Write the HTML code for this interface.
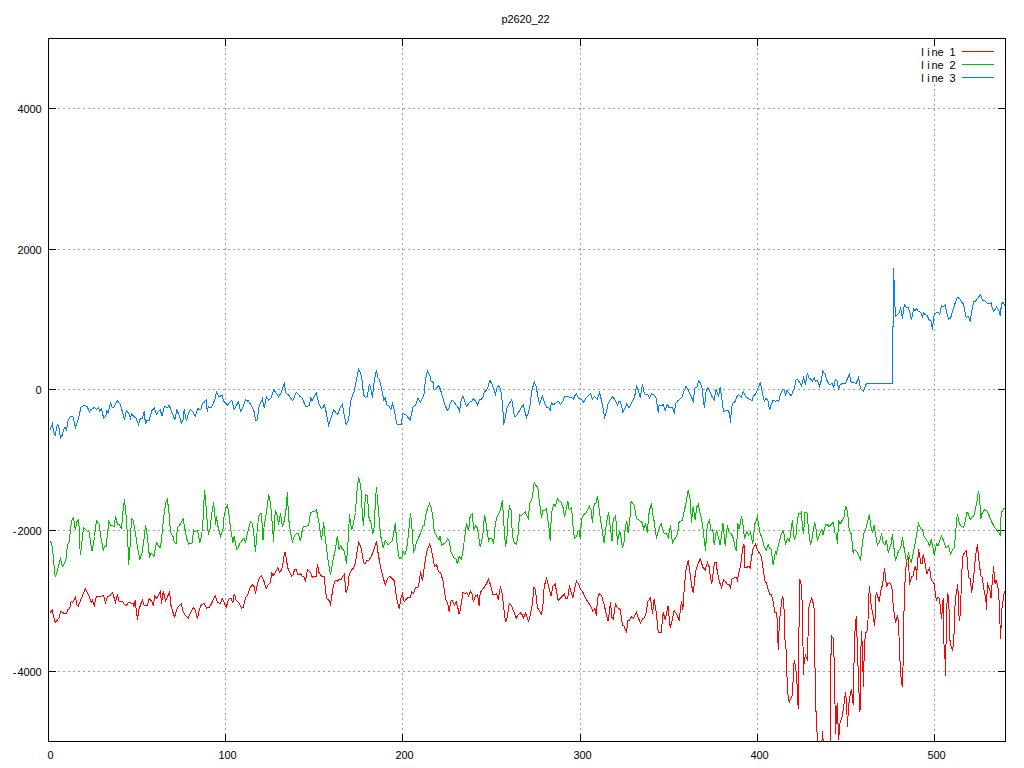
<!DOCTYPE html><html><head><meta charset="utf-8"><title>p2620_22</title><style>html,body{margin:0;padding:0;background:#fff;overflow:hidden}svg{display:block}text{font-family:"Liberation Sans",sans-serif;font-size:11px;fill:#000}</style></head><body>
<svg width="1024" height="768" viewBox="0 0 1024 768">
<rect width="1024" height="768" fill="#fff"/>
<defs><clipPath id="pc"><rect x="48" y="38" width="958" height="704"/></clipPath></defs>
<path d="M58 108.5H995M58 249.5H995M58 389.5H995M58 530.5H995M58 671.5H995M225.5 48V735M402.5 48V735M580.5 48V735M757.5 48V735M934.5 84V735" stroke="#a0a0a0" stroke-width="1" stroke-dasharray="2 3" fill="none" shape-rendering="crispEdges"/>
<path d="M48 108.5H56M998 108.5H1006M48 249.5H56M998 249.5H1006M48 389.5H56M998 389.5H1006M48 530.5H56M998 530.5H1006M48 671.5H56M998 671.5H1006M48.5 734V742M48.5 38V46M225.5 734V742M225.5 38V46M402.5 734V742M402.5 38V46M580.5 734V742M580.5 38V46M757.5 734V742M757.5 38V46M934.5 734V742M934.5 38V46" stroke="#000" stroke-width="1" fill="none" shape-rendering="crispEdges"/>
<text x="20.5 26.5 32.5 38.5" y="113" text-anchor="middle">4000</text>
<text x="20.5 26.5 32.5 38.5" y="254" text-anchor="middle">2000</text>
<text x="38.5" y="394" text-anchor="middle">0</text>
<text x="14.5 20.5 26.5 32.5 38.5" y="535" text-anchor="middle">-2000</text>
<text x="14.5 20.5 26.5 32.5 38.5" y="676" text-anchor="middle">-4000</text>
<text x="50.5" y="759" text-anchor="middle">0</text>
<text x="221.5 227.5 233.5" y="759" text-anchor="middle">100</text>
<text x="398.5 404.5 410.5" y="759" text-anchor="middle">200</text>
<text x="576.5 582.5 588.5" y="759" text-anchor="middle">300</text>
<text x="753.5 759.5 765.5" y="759" text-anchor="middle">400</text>
<text x="930.5 936.5 942.5" y="759" text-anchor="middle">500</text>
<text x="504.5 510.5 516.5 522.5 528.5 534.5 540.5 546.5" y="23" text-anchor="middle">p2620_22</text>
<text x="922.5 928.5 934.5 940.5 946.5 952.5" y="56" text-anchor="middle">line 1</text>
<path d="M962 51.5H994" stroke="#ff0000" stroke-width="1" shape-rendering="crispEdges"/>
<text x="922.5 928.5 934.5 940.5 946.5 952.5" y="69" text-anchor="middle">line 2</text>
<path d="M962 64.5H994" stroke="#00c000" stroke-width="1" shape-rendering="crispEdges"/>
<text x="922.5 928.5 934.5 940.5 946.5 952.5" y="82" text-anchor="middle">line 3</text>
<path d="M962 77.5H994" stroke="#0080ff" stroke-width="1" shape-rendering="crispEdges"/>
<polyline clip-path="url(#pc)" points="50.2,612.5 52.4,610.2 53.6,616.9 55.2,622.5 57.4,620.0 59.2,617.8 60.5,611.2 62.0,612.2 63.6,613.1 66.5,613.1 67.8,609.4 69.5,608.8 71.1,601.9 72.8,602.2 74.2,599.8 75.5,597.2 76.8,604.4 78.2,606.5 80.2,601.2 82.8,594.8 85.2,588.5 87.4,593.1 89.2,596.2 91.1,602.5 92.4,600.0 94.2,605.6 96.1,597.2 97.4,596.2 99.5,596.2 101.1,596.9 103.0,594.8 104.2,597.5 105.5,602.5 107.4,596.9 109.5,595.6 110.5,595.0 112.4,592.5 114.0,597.5 115.5,602.5 117.4,594.0 119.0,601.2 121.8,601.2 123.0,602.2 125.2,605.6 126.5,605.2 128.0,603.1 130.5,602.5 131.8,603.8 133.0,602.8 134.0,606.5 135.2,599.8 136.5,612.5 137.5,619.8 138.6,610.6 140.5,605.0 142.4,599.8 144.2,605.2 147.4,605.2 149.2,598.8 150.8,600.0 152.4,603.1 153.2,605.6 154.9,595.6 156.8,598.8 158.0,596.2 160.5,591.2 161.5,603.8 163.2,591.2 165.5,600.6 167.8,596.2 169.5,591.2 171.1,606.2 173.0,612.5 174.5,616.9 175.5,614.4 176.5,610.0 178.6,606.2 181.1,603.8 183.0,611.2 184.9,615.0 188.2,618.1 191.1,611.9 193.2,607.5 195.2,610.0 197.4,618.5 199.2,610.0 201.5,604.4 204.2,603.8 206.8,608.1 209.2,607.5 211.8,603.1 213.6,598.8 215.2,595.6 217.4,601.9 220.2,603.8 222.4,598.5 224.2,602.5 226.1,607.5 227.8,601.9 229.2,598.5 231.1,598.1 232.8,603.1 234.2,593.8 236.1,600.0 238.6,602.5 241.8,608.1 243.0,607.5 245.5,598.1 248.0,594.4 250.2,587.5 252.8,584.4 254.2,586.9 255.5,593.5 256.8,586.9 258.6,579.4 261.1,575.6 263.6,580.0 266.1,588.5 268.0,585.0 270.2,582.5 271.8,572.8 273.2,576.0 275.5,571.9 277.8,567.5 279.5,571.9 281.1,570.6 282.8,565.0 284.0,556.2 285.2,551.9 286.5,560.6 287.8,568.1 289.5,571.9 291.5,576.2 293.0,575.0 294.5,570.0 295.5,569.4 296.1,569.8 298.0,574.4 300.5,573.8 302.0,576.2 304.0,576.9 305.5,580.6 307.4,569.8 309.5,571.2 312.4,577.2 314.2,576.0 316.1,576.5 317.4,564.4 319.0,572.5 321.5,576.2 324.2,576.9 326.5,598.8 328.6,599.4 330.5,604.4 333.0,588.1 335.2,580.0 337.4,581.2 339.0,579.4 341.1,579.4 344.2,574.4 346.1,593.1 348.0,586.2 349.2,574.4 351.1,570.6 353.6,568.1 355.5,563.1 356.5,555.0 358.6,542.5 360.5,545.6 362.0,552.5 363.6,562.8 365.2,563.5 367.0,560.6 369.2,559.8 371.1,556.9 373.6,550.6 376.5,541.5 378.0,552.5 379.9,563.8 381.8,572.5 383.2,577.5 385.2,585.0 387.4,578.8 389.9,576.2 391.8,578.1 394.2,580.6 396.8,599.4 399.2,608.5 401.1,597.5 402.4,594.0 404.2,601.9 406.1,599.4 408.0,597.5 410.2,597.5 411.8,591.9 413.6,593.1 415.5,587.5 418.2,586.9 419.5,581.2 420.5,571.2 422.4,581.2 423.6,572.5 424.9,562.5 426.8,551.2 429.5,544.4 431.1,548.1 433.0,558.1 434.5,566.2 436.5,564.8 438.6,571.9 440.8,573.1 443.0,581.2 445.5,598.8 447.8,603.8 449.2,611.9 450.8,601.2 452.4,600.6 454.5,605.0 456.1,601.5 457.8,607.5 459.2,614.4 460.8,606.9 463.0,591.9 464.9,593.8 466.8,592.5 468.6,596.2 470.5,591.2 471.8,593.1 473.2,601.5 475.5,596.2 477.4,594.4 479.2,606.2 480.2,592.5 483.0,588.8 485.5,585.6 488.6,579.4 490.5,585.0 493.0,594.8 495.5,594.8 496.8,593.8 498.2,600.0 500.5,586.2 502.4,595.0 503.6,606.2 505.5,622.2 507.4,616.9 509.2,603.8 511.1,605.0 513.6,611.2 516.1,618.5 517.8,615.0 520.5,613.1 522.4,615.0 523.6,618.1 525.5,613.1 528.6,621.2 530.5,613.8 532.4,603.8 534.0,586.9 535.5,590.0 537.4,607.5 539.5,611.2 541.5,614.4 543.0,604.4 544.2,586.2 546.5,578.5 548.6,586.2 551.1,596.2 553.0,586.2 555.2,584.4 556.8,592.5 558.2,600.6 560.8,597.5 562.4,596.2 564.2,593.8 565.8,598.1 567.8,598.1 569.5,585.2 571.1,592.5 573.0,597.5 574.9,587.5 576.5,581.2 578.6,583.8 580.5,589.4 583.0,592.5 585.5,598.1 588.6,603.1 590.5,605.6 592.8,611.2 594.9,608.8 596.5,616.2 597.4,598.1 599.5,593.5 601.8,596.2 604.2,605.0 606.1,613.1 608.2,621.2 610.5,602.5 612.0,617.5 613.2,618.8 615.5,604.4 617.4,607.5 620.2,609.4 622.4,625.0 624.0,626.2 626.5,632.5 628.0,620.0 629.0,621.2 631.5,616.5 633.6,618.1 636.5,612.5 638.0,616.9 640.5,623.1 642.4,618.8 644.5,617.5 646.1,612.5 648.0,601.2 650.5,597.5 652.4,613.8 654.2,598.8 655.5,608.1 656.1,611.2 658.2,632.2 661.1,632.2 663.2,612.5 665.2,620.0 668.0,605.6 670.2,627.5 672.4,619.4 674.2,610.6 676.8,614.4 679.2,620.6 681.5,600.6 682.8,610.0 684.0,592.5 684.9,581.2 686.1,568.8 688.2,559.8 689.9,572.5 691.5,585.0 693.2,593.1 694.9,577.5 695.8,570.6 698.0,563.8 700.2,558.8 703.0,567.5 705.2,570.0 707.4,562.5 709.2,566.9 710.5,577.5 711.8,584.4 713.0,573.8 714.5,562.5 716.1,562.5 717.4,572.5 719.2,581.2 721.5,587.5 723.6,579.8 725.2,581.2 727.8,585.0 729.2,584.4 730.5,588.5 732.0,578.8 734.2,578.1 736.1,576.9 737.4,580.0 738.6,574.0 740.5,566.2 741.8,555.0 743.0,547.5 744.0,543.8 744.5,567.5 746.1,568.1 748.6,566.2 750.2,568.1 751.5,557.5 752.8,550.0 754.2,546.2 755.5,543.8 757.4,550.0 759.9,553.8 761.5,557.5 763.0,567.5 764.9,581.2 766.5,583.1 768.2,590.0 769.9,595.0 771.5,594.8 773.0,601.2 774.9,612.5 776.1,612.5 777.4,620.0 778.2,649.8 779.3,624.0 780.5,611.2 782.4,596.2 783.6,600.0 784.2,613.1 785.2,646.0 786.5,650.4 786.8,671.6 787.4,687.2 788.2,697.2 789.2,702.2 790.2,699.1 792.0,696.6 792.8,687.2 793.6,669.1 794.2,660.4 795.2,664.8 796.1,671.6 797.0,683.5 797.8,699.8 798.2,708.5 799.5,579.4 800.8,582.5 801.5,586.2 802.4,610.0 803.5,675.4 804.2,659.8 805.5,655.4 806.8,658.5 807.5,661.0 808.6,609.4 809.9,603.1 811.8,598.1 813.0,602.5 814.5,610.6 814.9,657.9 815.5,711.0 816.5,712.2 817.0,732.2 818.5,752.0 821.0,760.0 822.5,731.0 823.6,748.0 828.0,760.0 830.5,741.5 830.5,688.5 831.3,635.7 833.0,638.2 834.3,662.0 835.5,733.5 837.2,703.0 838.6,739.8 840.2,721.0 841.8,718.5 843.6,707.2 845.5,692.2 846.5,701.0 847.4,726.6 848.6,706.0 850.5,692.9 851.5,689.1 853.2,704.8 853.8,672.3 854.7,635.7 855.5,624.0 856.3,616.5 856.9,634.0 858.0,665.7 858.8,689.0 860.0,712.3 860.5,672.3 861.3,630.7 862.2,644.0 863.0,671.5 863.5,686.5 864.3,647.3 865.5,633.2 867.2,630.7 868.0,620.0 868.6,598.1 869.5,586.2 870.2,595.0 871.1,605.0 872.4,612.5 873.6,617.5 874.3,625.7 875.5,614.0 876.1,591.9 877.0,593.8 878.0,597.5 879.2,601.9 880.8,591.2 882.4,585.0 883.2,580.0 884.5,568.1 885.5,577.5 886.5,586.9 887.8,583.8 889.9,582.5 891.1,585.0 892.0,588.8 893.0,602.5 894.5,616.2 895.5,622.5 897.3,615.5 898.5,622.0 899.7,655.7 901.0,677.3 902.2,686.5 903.0,667.3 903.8,629.0 904.2,596.2 905.5,573.1 906.5,561.9 908.0,556.9 909.0,571.2 909.5,585.0 910.5,580.0 911.8,576.9 913.2,575.6 914.5,567.5 915.2,570.0 915.8,565.6 916.5,580.0 917.4,561.9 918.0,556.9 918.6,549.4 919.9,557.5 920.8,563.1 922.4,563.1 923.2,553.8 924.2,558.8 925.5,566.2 927.0,573.8 928.6,570.0 929.5,567.5 930.5,575.0 931.5,580.6 933.0,581.9 934.2,583.8 935.5,595.0 936.5,600.0 938.0,597.5 939.2,598.1 940.2,605.0 941.5,619.4 942.4,607.5 943.2,598.1 944.2,655.0 944.9,655.0 945.5,675.6 945.8,656.2 946.5,615.0 947.4,593.8 948.2,595.0 949.0,608.8 949.5,631.2 950.2,643.8 951.8,648.8 952.4,650.6 953.6,643.1 954.5,622.5 955.2,600.0 956.8,590.0 957.8,584.4 958.6,611.2 959.5,621.2 960.2,613.8 960.8,602.5 961.5,576.9 962.8,556.2 964.2,553.1 966.5,550.6 967.0,556.9 968.0,570.0 969.0,578.1 970.5,578.1 971.5,593.1 972.8,585.0 974.0,573.1 975.2,560.0 976.1,551.9 977.4,544.4 978.6,556.9 979.9,568.8 981.1,576.2 982.4,577.5 983.6,587.5 984.9,595.0 985.8,598.1 986.5,610.0 987.4,582.5 988.2,586.2 989.9,590.0 991.1,598.1 992.4,580.0 993.0,573.8 993.6,565.6 994.2,575.0 995.2,584.4 996.1,580.0 997.4,583.8 998.6,592.5 999.5,610.0 1000.5,638.8 1001.1,626.2 1001.8,610.0 1002.8,602.5 1004.2,592.5 1005.2,591.0" fill="none" stroke="#ff0000" stroke-width="1" stroke-linejoin="miter" shape-rendering="crispEdges"/>
<polyline clip-path="url(#pc)" points="50.2,540.9 51.8,544.0 53.2,555.9 55.2,577.1 56.8,573.4 58.6,565.2 60.5,559.0 62.4,566.5 64.2,564.0 66.1,559.0 67.4,545.2 69.2,541.5 70.8,526.5 71.8,520.2 73.6,517.5 75.2,529.6 77.0,521.5 78.6,519.6 79.5,534.0 80.2,555.2 81.5,546.5 82.4,536.5 83.6,527.5 87.0,530.9 89.2,532.1 90.5,541.5 92.0,550.9 93.0,546.5 94.5,536.5 96.5,520.5 99.2,524.6 100.8,536.5 103.2,550.2 105.2,545.2 106.1,545.9 107.8,531.5 108.6,521.5 110.8,525.2 112.4,525.5 114.0,527.1 115.5,516.5 117.4,524.0 119.5,524.6 121.5,529.2 122.8,512.8 124.5,499.2 126.5,520.2 128.0,546.5 128.6,564.6 130.2,545.2 131.5,518.4 133.2,520.2 135.5,534.0 137.8,549.0 139.9,559.6 141.8,554.0 144.0,539.6 145.5,525.2 147.0,534.0 148.0,542.8 149.5,557.1 151.1,553.4 152.4,554.6 154.0,556.5 155.5,547.1 156.8,542.8 158.2,545.2 159.5,547.1 160.5,547.1 162.4,530.2 164.0,515.2 165.8,502.8 167.4,499.2 169.0,512.8 170.5,532.1 173.0,536.5 174.5,542.8 175.5,543.4 176.1,543.4 177.4,527.8 180.5,524.0 183.2,519.2 184.9,529.0 186.8,539.0 188.6,544.0 192.0,543.4 193.6,530.2 195.2,532.1 197.0,530.0 198.0,532.8 199.9,542.8 201.8,534.0 203.0,520.2 204.5,490.2 205.5,499.0 206.5,512.8 207.8,529.6 208.6,533.4 209.9,529.6 211.5,515.2 213.6,502.5 214.9,515.2 215.5,525.2 216.5,516.5 218.0,526.5 220.5,536.5 223.0,529.0 224.2,515.2 226.1,507.1 227.4,505.2 229.0,514.6 230.2,525.9 231.8,535.2 232.8,542.8 234.2,536.5 236.5,549.0 238.0,548.4 239.5,544.0 243.0,539.0 244.2,538.4 245.5,542.8 247.0,535.2 249.0,527.1 250.5,521.5 252.4,523.4 254.2,537.8 255.5,552.1 256.5,537.8 258.6,516.5 260.2,513.4 261.5,513.8 263.0,540.2 264.2,525.2 266.1,514.6 267.4,505.9 268.6,494.2 270.2,501.5 271.5,514.0 273.6,541.5 274.5,519.0 275.5,510.5 277.0,515.2 278.6,524.6 280.5,512.8 282.4,526.5 284.2,520.9 286.1,509.0 287.4,492.5 288.6,518.4 290.5,532.8 292.4,542.1 294.2,536.5 295.5,534.6 298.0,532.8 300.5,541.2 301.8,532.2 303.6,526.5 306.8,526.2 308.6,525.2 310.5,513.1 313.0,511.0 314.9,511.2 316.5,509.8 319.2,523.8 321.5,540.2 322.8,530.0 323.6,522.5 324.9,535.0 328.0,560.0 330.5,575.2 332.8,561.2 335.2,550.0 337.4,535.6 339.2,550.2 340.5,545.6 341.8,548.1 344.2,551.0 346.5,563.5 348.0,542.5 349.5,514.4 350.5,523.8 351.8,530.0 353.0,525.0 355.5,512.5 356.5,495.0 358.6,477.1 360.8,486.2 361.8,505.0 363.4,526.2 364.5,510.0 365.5,495.0 367.4,495.2 369.2,520.0 370.8,521.2 372.8,534.4 374.2,527.5 375.5,498.8 376.5,487.5 378.0,505.0 379.2,518.8 380.5,535.0 383.2,548.1 385.2,540.6 388.2,545.0 390.5,542.5 392.4,540.6 393.6,533.8 395.2,523.5 397.4,547.5 399.2,558.5 402.0,557.5 403.0,551.5 404.9,554.4 406.8,548.1 408.6,532.5 410.5,513.5 411.8,525.6 413.6,552.5 415.5,547.5 416.1,543.5 418.6,537.2 420.5,533.5 423.0,526.0 424.2,525.4 426.1,513.5 427.8,507.9 429.5,503.5 431.5,508.5 432.8,517.2 434.2,531.0 436.1,535.4 439.0,539.8 440.2,535.8 441.5,545.4 444.2,543.5 445.5,542.9 447.8,538.5 449.2,541.0 451.1,552.2 454.2,558.5 456.1,559.1 457.4,564.1 459.2,556.6 461.5,559.1 463.0,551.0 464.5,538.5 466.5,523.5 468.6,530.4 470.2,515.8 472.4,513.5 473.6,530.4 475.5,525.4 477.4,527.9 480.2,547.2 482.8,536.0 484.5,515.4 485.5,518.5 487.4,533.5 488.6,541.0 489.9,538.5 491.8,538.5 493.6,543.5 495.2,524.8 496.8,517.2 500.5,509.8 502.4,500.4 504.0,526.0 505.5,546.6 506.8,539.8 508.0,518.5 509.5,506.6 511.1,510.4 512.4,536.0 514.2,542.9 516.5,544.5 518.2,533.5 519.5,514.8 521.1,516.0 525.2,511.6 526.5,514.8 528.2,518.5 529.9,503.5 531.8,499.1 533.0,492.2 534.2,482.2 535.5,485.4 536.1,485.6 537.8,486.9 539.0,498.8 540.2,507.5 541.5,517.5 542.8,510.2 544.9,510.2 546.5,508.5 547.8,520.0 549.0,527.5 550.2,541.2 551.5,512.5 553.0,506.9 554.0,504.4 555.5,506.2 557.4,498.5 559.2,501.2 561.1,502.2 563.0,507.5 564.5,517.2 565.8,511.2 567.8,500.6 569.2,510.0 571.1,507.8 572.4,515.0 573.2,528.8 574.5,538.1 576.5,536.9 578.0,531.2 579.0,529.8 580.2,538.8 581.5,519.4 583.6,514.8 585.8,513.1 589.5,506.2 591.1,510.6 592.4,522.5 594.2,503.8 596.1,502.8 597.4,495.6 599.0,507.5 600.2,517.5 601.8,528.1 604.2,543.1 605.5,530.0 607.0,520.0 608.6,512.5 610.2,526.2 612.0,541.2 613.2,518.8 615.2,516.5 616.5,523.8 617.4,545.0 618.2,537.5 619.9,531.2 621.1,537.5 622.4,548.1 624.0,542.5 625.5,526.2 626.8,521.5 628.2,533.1 629.9,518.8 631.1,501.2 634.2,505.6 636.5,518.8 638.0,519.4 642.0,522.5 643.6,528.8 645.5,524.4 646.5,528.1 647.4,533.1 648.6,515.6 650.2,507.5 651.5,504.4 653.0,516.2 654.5,522.5 655.5,533.1 656.5,537.2 658.6,530.0 661.1,523.5 662.8,529.4 664.2,533.1 666.5,534.0 668.2,537.5 670.5,525.2 672.4,543.1 674.9,538.8 677.4,534.4 679.0,522.5 680.8,521.0 682.4,520.0 684.2,511.2 686.1,502.5 688.2,490.2 690.2,499.8 691.5,522.5 693.2,506.2 695.2,520.0 696.8,506.9 698.2,504.4 700.5,515.0 702.4,523.8 704.0,537.5 705.5,550.6 706.8,530.0 708.0,523.1 709.5,520.2 711.1,530.6 712.8,529.4 714.2,545.0 716.5,530.0 718.0,536.2 720.2,545.2 723.0,523.5 725.2,546.2 727.4,525.2 729.2,532.5 731.1,533.8 733.0,537.5 735.5,548.8 736.5,550.0 737.8,523.5 739.2,529.4 741.5,516.2 743.0,525.0 744.5,538.8 746.8,531.5 748.6,535.0 750.5,531.9 752.8,543.8 754.9,523.8 757.4,516.9 759.9,532.5 761.8,537.5 764.0,546.2 766.1,550.2 768.2,545.0 769.5,548.5 771.1,549.0 773.2,565.0 775.5,551.2 776.1,555.0 778.6,545.0 781.1,535.0 783.0,530.6 784.2,535.0 785.5,544.4 787.4,538.8 788.2,539.8 789.5,541.2 790.8,532.5 792.4,520.2 794.2,539.4 795.8,536.9 797.4,520.0 798.6,513.5 800.5,513.5 801.5,512.2 802.4,527.5 803.6,534.4 804.9,512.5 807.0,513.1 808.0,523.8 809.2,536.2 810.5,544.4 811.8,540.0 813.0,532.5 814.5,522.5 815.8,527.5 817.4,541.2 819.2,535.0 821.8,529.4 823.0,535.0 825.5,525.0 826.8,524.0 829.0,526.5 831.1,524.4 833.2,522.5 834.9,532.5 836.5,535.0 837.4,544.4 838.6,520.2 840.2,524.0 842.0,520.6 844.0,516.9 845.5,506.2 847.4,511.2 849.2,529.4 851.1,533.8 852.4,543.8 853.2,553.8 854.2,549.4 857.0,551.9 858.6,555.0 860.5,560.6 862.0,547.5 863.6,534.0 865.5,530.0 868.0,520.0 869.5,514.4 870.5,524.4 872.4,532.5 874.2,525.2 875.5,533.8 877.4,545.0 879.5,542.5 881.5,533.5 883.2,543.1 884.9,545.0 886.5,539.8 888.2,552.5 890.8,545.0 892.4,534.4 893.6,545.0 895.5,561.2 897.5,553.8 899.0,550.0 900.6,548.1 902.5,537.5 904.0,547.5 905.6,556.2 906.5,561.9 908.5,552.5 909.4,557.5 911.2,562.5 912.8,555.0 914.8,545.0 916.5,535.0 918.5,523.5 920.6,528.8 922.5,529.4 924.0,536.2 926.2,539.4 928.1,542.5 929.8,546.2 931.2,539.4 932.5,545.0 934.4,556.2 935.6,546.9 936.9,543.8 938.1,545.6 940.0,540.0 941.5,536.2 943.8,541.2 946.0,547.5 948.5,546.0 950.6,554.0 952.5,550.0 954.4,547.2 955.2,537.5 956.0,528.1 956.5,520.0 957.5,514.4 959.4,523.8 961.2,526.2 963.8,527.5 965.6,518.8 966.9,512.5 968.5,513.8 970.2,520.0 971.9,516.9 973.8,516.0 976.0,506.2 977.5,498.1 978.5,490.6 979.8,500.0 980.6,519.4 981.9,513.8 984.4,509.8 987.2,511.0 989.8,517.5 992.5,523.5 994.8,527.8 997.5,531.2 1000.2,535.0 1001.2,512.5 1004.4,508.1" fill="none" stroke="#00c000" stroke-width="1" stroke-linejoin="miter" shape-rendering="crispEdges"/>
<polyline clip-path="url(#pc)" points="50.2,429.4 52.4,423.8 53.6,432.5 55.2,435.0 57.4,424.4 59.0,427.5 60.5,438.1 62.0,435.6 64.0,428.8 65.1,426.9 66.5,430.0 68.0,421.2 69.9,416.9 73.0,416.9 75.5,427.5 78.0,420.0 81.1,406.9 84.2,405.2 87.4,406.9 89.5,412.2 91.1,409.4 94.2,407.5 96.8,409.4 98.6,407.5 99.9,411.2 101.5,408.8 103.6,418.1 105.5,416.9 106.8,411.2 108.0,412.5 110.5,403.5 112.4,407.5 114.2,406.9 117.4,400.6 120.5,405.0 124.5,419.4 126.4,410.6 128.6,413.1 130.5,418.1 131.5,413.8 134.2,416.9 136.1,418.1 138.6,425.0 140.2,418.8 142.4,418.1 144.2,411.2 145.5,424.4 146.8,420.6 149.2,420.6 151.8,410.6 154.5,408.1 156.5,414.4 158.6,411.2 160.5,410.0 161.8,416.2 164.5,406.2 167.4,407.5 169.2,405.2 171.8,412.5 174.9,419.4 176.8,409.8 178.6,413.8 181.5,423.1 183.2,420.0 184.2,409.4 185.5,417.5 186.5,421.2 188.2,413.8 190.5,409.4 193.0,411.9 195.2,416.2 198.0,407.8 199.2,410.0 200.8,409.8 202.4,403.1 204.2,402.5 206.1,399.8 207.4,412.2 208.2,406.9 211.1,408.1 214.9,399.4 216.5,391.9 219.2,396.9 222.0,395.0 223.6,401.2 227.4,405.0 231.8,400.2 234.2,409.8 238.6,401.5 240.5,411.2 241.8,410.0 245.5,399.8 247.0,401.2 248.2,400.6 251.8,406.2 254.2,411.9 255.5,420.0 257.0,420.0 259.2,406.2 262.4,398.8 264.2,408.1 266.5,396.9 268.6,400.0 271.1,398.1 273.6,389.8 276.8,393.8 278.6,396.9 281.1,392.5 284.2,383.5 286.1,393.1 289.2,395.6 292.4,400.6 293.6,399.4 295.5,393.1 296.5,392.5 300.5,396.9 301.8,397.2 305.5,406.2 308.0,406.0 309.5,405.0 310.8,397.5 312.0,401.0 316.1,392.5 319.2,405.0 321.1,408.1 323.0,407.8 324.2,405.0 325.5,408.8 328.6,425.0 330.5,420.0 333.6,409.8 337.4,414.4 338.6,412.5 340.5,406.9 342.4,404.4 344.2,415.0 346.1,424.4 348.6,420.0 350.5,401.9 351.8,397.5 354.2,391.2 356.1,381.9 358.6,369.4 360.5,372.5 361.8,378.1 363.6,395.0 365.5,397.5 367.4,396.2 369.2,384.4 370.5,387.5 372.4,397.5 374.2,381.2 376.5,370.2 377.8,377.5 379.0,378.8 380.5,383.8 382.4,392.5 383.6,400.0 385.2,398.1 386.8,404.8 389.2,406.2 390.8,409.4 392.4,403.5 394.0,408.8 396.8,423.8 397.8,425.0 401.1,424.8 403.0,413.5 406.1,415.0 410.2,420.0 413.0,406.9 415.5,405.0 418.2,398.1 420.2,402.2 423.0,397.5 424.2,393.1 425.5,378.8 427.4,371.2 429.9,375.6 431.1,381.2 432.8,381.2 434.2,390.0 436.1,388.8 438.6,385.6 440.2,388.8 442.4,396.2 444.9,405.0 447.4,410.6 449.0,408.1 450.5,402.5 452.4,400.2 456.1,405.0 457.8,406.9 459.5,411.2 461.1,400.0 463.0,396.5 464.5,400.0 466.5,406.2 469.9,402.2 471.8,401.2 473.6,398.8 475.5,401.2 477.4,405.0 479.9,399.4 482.4,398.8 484.2,392.5 487.4,388.8 489.9,380.4 491.8,383.8 495.5,394.4 496.8,388.8 498.2,385.6 500.2,388.1 501.5,395.0 502.8,407.5 503.6,425.0 504.9,419.4 506.8,408.1 509.2,403.8 511.8,399.4 514.0,413.8 514.9,416.2 516.1,416.2 519.2,411.2 523.2,404.4 526.5,417.5 528.6,412.5 530.2,403.8 531.8,391.2 534.2,381.9 535.5,385.0 536.1,386.2 537.8,396.2 539.5,403.8 542.4,396.5 544.9,403.8 546.8,407.5 548.6,407.5 550.2,410.2 551.5,402.5 553.0,405.0 556.1,403.1 558.2,401.2 560.5,404.4 562.8,401.2 564.5,396.5 571.1,397.2 573.2,399.1 576.1,393.5 578.6,398.1 581.8,399.8 583.6,402.5 586.1,398.1 590.5,393.8 592.4,399.0 594.2,396.5 597.4,399.4 599.5,392.5 600.8,397.5 603.0,407.5 604.5,417.2 606.5,411.9 608.0,403.8 610.5,399.4 612.8,396.5 615.5,401.2 617.4,405.0 619.2,401.2 620.5,401.2 622.8,411.9 624.2,410.0 626.8,403.8 629.0,408.1 631.5,403.1 634.0,398.1 635.2,393.8 636.5,386.2 638.6,391.2 640.2,398.1 642.4,384.4 644.2,393.1 646.1,395.0 648.0,394.8 649.5,398.1 651.8,393.8 653.6,394.4 655.5,396.9 655.8,396.2 657.0,403.8 658.2,412.5 659.2,405.0 661.1,406.2 663.2,404.4 665.2,410.0 667.4,404.4 669.0,407.5 672.4,407.8 674.2,412.5 675.8,403.1 678.0,400.6 680.5,398.8 682.4,396.9 683.2,393.1 686.1,386.2 688.0,389.4 690.5,395.0 693.2,401.2 694.9,388.1 696.8,387.5 698.6,381.2 700.5,383.1 702.0,387.5 703.4,401.2 704.5,407.5 705.8,392.5 707.8,387.5 709.5,390.6 711.8,396.2 714.2,400.0 716.1,389.4 717.4,393.1 718.6,396.2 720.2,387.2 721.5,396.2 723.0,407.5 723.6,411.2 726.8,410.6 728.0,410.0 729.5,413.8 730.5,422.5 731.5,407.5 732.8,403.1 734.9,401.9 736.8,396.9 738.6,394.4 741.1,397.2 743.2,391.5 746.1,397.2 749.2,399.0 752.0,400.6 753.6,395.6 755.5,394.4 757.4,390.0 760.2,382.5 761.8,390.0 764.2,401.2 766.1,398.5 767.8,400.0 769.5,410.2 771.1,405.0 773.0,400.0 775.5,401.2 776.5,400.6 778.6,401.2 780.5,393.8 782.8,389.4 784.2,390.0 785.5,395.0 787.0,390.6 788.6,392.5 791.1,396.2 793.0,391.2 794.5,387.5 796.1,379.8 798.0,379.8 799.9,383.1 801.5,386.2 803.6,377.5 805.5,384.4 807.4,373.1 809.0,378.1 810.5,378.8 812.4,381.2 814.2,377.5 815.5,381.2 817.4,380.6 819.5,386.2 821.1,381.2 822.8,371.2 824.9,373.8 826.8,380.0 828.6,383.8 830.5,384.4 831.8,383.1 833.6,387.2 835.5,379.4 837.4,381.2 838.6,390.0 839.9,385.0 841.8,383.8 843.6,383.1 845.5,383.1 846.8,380.0 849.5,374.4 851.1,381.9 853.0,382.5 854.9,383.1 856.1,384.0 858.6,377.2 860.5,388.8 863.6,391.2 864.9,386.9 866.5,383.5 892.4,383.5 892.5,383.0 892.5,326.0 893.5,326.0 893.5,267.9 894.0,279.8 894.5,280.4 894.8,304.1 895.6,316.6 897.5,314.8 899.4,312.9 900.6,307.2 902.5,318.5 903.1,313.5 904.4,304.5 906.2,307.2 908.1,307.5 909.8,311.6 911.5,320.4 913.5,308.8 915.0,311.0 916.2,308.5 918.1,311.0 920.6,312.2 922.5,317.0 923.5,312.9 925.0,314.8 926.9,315.4 929.4,320.4 931.2,321.0 932.5,330.4 933.5,318.5 934.5,314.1 936.9,312.2 938.8,312.9 939.8,314.1 941.5,305.8 943.1,306.6 945.2,304.8 946.9,313.5 948.5,319.1 950.6,317.9 953.1,309.8 955.0,303.5 957.5,297.2 960.0,299.1 961.5,302.2 963.5,304.1 966.2,317.9 968.1,316.2 968.8,317.9 970.2,321.0 972.2,308.5 973.8,301.6 975.6,301.0 977.5,298.5 980.6,294.5 982.2,300.0 984.8,301.0 987.5,303.5 991.2,302.9 991.9,306.6 993.5,311.6 996.5,307.2 998.8,309.8 1000.2,316.0 1001.5,304.1 1003.1,302.5 1004.8,306.0" fill="none" stroke="#0080ff" stroke-width="1" stroke-linejoin="miter" shape-rendering="crispEdges"/>
<rect x="48.5" y="38.5" width="957" height="703" fill="none" stroke="#000" stroke-width="1" shape-rendering="crispEdges"/>
</svg></body></html>
